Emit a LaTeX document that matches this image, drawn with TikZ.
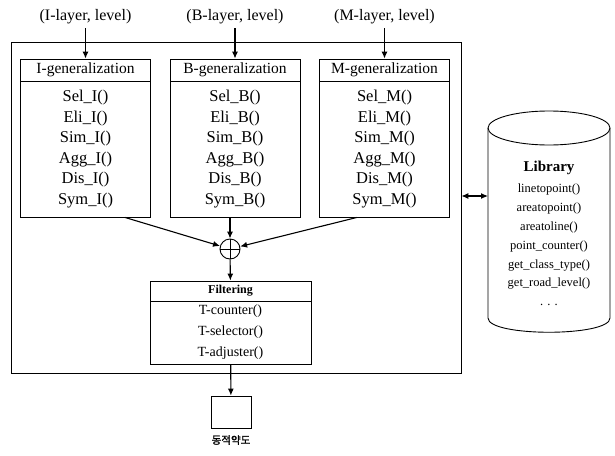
\documentclass[tikz,border=0pt]{standalone}
\usepackage{fontspec}
\setmainfont{Liberation Serif}
\newfontfamily\krfont[FakeBold=1.5]{Noto Sans CJK KR}
\usetikzlibrary{arrows.meta}

\tikzset{
  box/.style={draw, line width=0.9pt, inner sep=0pt},
  frame/.style={box, minimum width=450, minimum height=331},
  layer/.style={font=\fontsize{16}{18}\selectfont},
  genhead/.style={box, minimum width=130, minimum height=22, font=\fontsize{15.5}{17}\selectfont},
  genbody/.style={box, minimum width=130, minimum height=136, align=center, font=\fontsize{16.5}{20.6}\selectfont},
  filthead/.style={box, minimum width=161, minimum height=20, font=\fontsize{12}{14}\selectfont\bfseries},
  filtbody/.style={box, minimum width=161, minimum height=63, align=center, font=\fontsize{14}{21}\selectfont},
  plus/.style={draw, circle, line width=0.9pt, minimum size=20, inner sep=0pt},
}

\begin{document}
\begin{tikzpicture}[x=1pt, y=-1pt, >={Latex[length=7pt,width=6pt]}, line width=1.1pt]
  \useasboundingbox (0,0) rectangle (615,455);
  % outer frame
  \node[frame] (outer) at (236,207.5) {};
  % inputs
  \node[layer] (inI) at (85.5,17) {(I-layer, level)};
  \node[layer] (inB) at (235,17) {(B-layer, level)};
  \node[layer] (inM) at (384.5,17) {(M-layer, level)};
  % generalization boxes
  \node[genhead] (headI) at (85.5,70) {I-generalization};
  \node[genbody] (bodyI) at (85.5,149) {Sel\_I()\\Eli\_I()\\Sim\_I()\\Agg\_I()\\Dis\_I()\\Sym\_I()};
  \node[genhead] (headB) at (235,70) {B-generalization};
  \node[genbody] (bodyB) at (235,149) {Sel\_B()\\Eli\_B()\\Sim\_B()\\Agg\_B()\\Dis\_B()\\Sym\_B()};
  \node[genhead] (headM) at (384.5,70) {M-generalization};
  \node[genbody] (bodyM) at (384.5,149) {Sel\_M()\\Eli\_M()\\Sim\_M()\\Agg\_M()\\Dis\_M()\\Sym\_M()};
  \draw[->] (inI) -- (headI);
  \draw[->] (inB) -- (headB);
  \draw[->] (inM) -- (headM);
  % merge
  \node[plus] (sum) at (230,249) {};
  \draw[line width=0.9pt] (sum.north) -- (sum.south) (sum.west) -- (sum.east);
  \draw[->] (bodyI.-60) -- (sum);
  \draw[->] (sum |- bodyB.south) -- (sum);
  \draw[->] (bodyM.-112) -- (sum);
  % filtering
  \node[filthead] (headF) at (230.5,291) {Filtering};
  \node[filtbody] (bodyF) at (230.5,332.5) {T-counter()\\T-selector()\\T-adjuster()};
  \draw[->] (sum) -- (headF);
  % result map
  \node[box, minimum width=40, minimum height=32] (map) at (231,412) {};
  \node[font=\krfont\fontsize{10.5}{12}\selectfont] (mapname) at (231,440) {동적약도};
  \draw[->] (bodyF) -- (map);
  % library
  \draw[line width=0.9pt] (549,128) ellipse [x radius=61, y radius=17];
  \draw[line width=0.9pt] (488,128) -- (488,318) .. controls (488,337) and (610,337) .. (610,318) -- (610,128);
  \node[font=\fontsize{15}{17}\selectfont\bfseries] (libname) at (549,168) {Library};
  \node[align=center, font=\fontsize{12.5}{18.8}\selectfont] (libfuncs) at (549,245) {linetopoint()\\areatopoint()\\areatoline()\\point\_counter()\\get\_class\_type()\\get\_road\_level()\\. . .};
  \coordinate (libW) at (488,196);
  \draw[<->] (outer.east |- libW) -- (libW);
\end{tikzpicture}
\end{document}
